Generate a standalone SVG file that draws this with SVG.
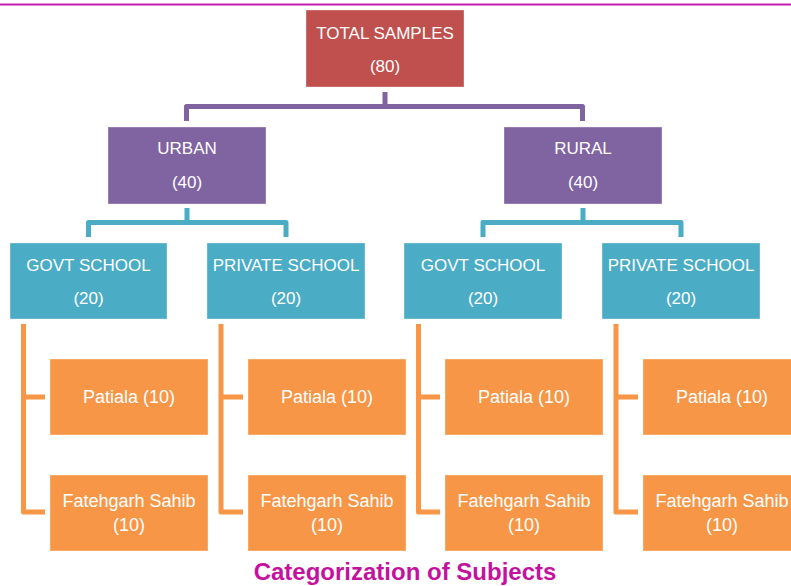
<svg xmlns="http://www.w3.org/2000/svg" width="791" height="586" viewBox="0 0 791 586">
  <style>
    .lbl { font-family: "Liberation Sans", Arial, sans-serif; font-size: 17px; fill: #ffffff; text-anchor: middle; }
    .lbl18 { font-size: 18px; }
    .title { font-family: "Liberation Sans", Arial, sans-serif; font-size: 24px; font-weight: bold; fill: #C3129E; text-anchor: middle; }
    .red { fill: #C0504D; }
    .purple { fill: #8064A2; }
    .teal { fill: #4BACC6; }
    .orange { fill: #F79646; }
    .box { stroke: #ffffff; stroke-opacity: 0.35; stroke-width: 1; }
    .conn { fill: none; stroke-width: 5; stroke-linejoin: round; stroke-linecap: butt; }
  </style>

  <rect width="791" height="586" fill="#ffffff"/>

  <!-- header rule -->
  <line x1="0" y1="4.5" x2="791" y2="4.5" stroke="#C21BB0" stroke-width="2"/>

  <!-- connectors -->
  <g id="connectors">
    <!-- root to regions -->
    <path class="conn" stroke="#8064A2" d="M385 92 V106.5 M186.5 121 V106.5 H582.5 V121"/>
    <!-- regions to schools -->
    <path class="conn" stroke="#4BACC6" d="M187 208 V222.5 M88.5 237 V222.5 H286 V237"/>
    <path class="conn" stroke="#4BACC6" d="M583 208 V222.5 M483 237 V222.5 H681 V237"/>
    <!-- schools to districts -->
    <path class="conn" stroke="#F79646" d="M23.5 324 V512 H45 M23.5 397 H45"/>
    <path class="conn" stroke="#F79646" d="M221 324 V512 H243 M221 397 H243"/>
    <path class="conn" stroke="#F79646" d="M418.5 324 V512 H440 M418.5 397 H440"/>
    <path class="conn" stroke="#F79646" d="M616 324 V512 H638 M616 397 H638"/>
  </g>

  <!-- root -->
  <g id="total">
    <rect class="red box" x="306" y="10" width="158" height="77"/>
    <text class="lbl" x="385" y="39">TOTAL SAMPLES</text>
    <text class="lbl" x="385" y="72">(80)</text>
  </g>

  <!-- regions -->
  <g id="urban">
    <rect class="purple box" x="108" y="127" width="158" height="77"/>
    <text class="lbl" x="187" y="154">URBAN</text>
    <text class="lbl" x="187" y="188">(40)</text>
  </g>
  <g id="rural">
    <rect class="purple box" x="504" y="127" width="158" height="77"/>
    <text class="lbl" x="583" y="154">RURAL</text>
    <text class="lbl" x="583" y="188">(40)</text>
  </g>

  <!-- schools -->
  <g id="urban-govt">
    <rect class="teal box" x="10" y="243" width="157" height="76"/>
    <text class="lbl" x="88.5" y="271">GOVT SCHOOL</text>
    <text class="lbl" x="88.5" y="304">(20)</text>
  </g>
  <g id="urban-private">
    <rect class="teal box" x="207" y="243" width="158" height="76"/>
    <text class="lbl" x="286" y="271">PRIVATE SCHOOL</text>
    <text class="lbl" x="286" y="304">(20)</text>
  </g>
  <g id="rural-govt">
    <rect class="teal box" x="404" y="243" width="158" height="76"/>
    <text class="lbl" x="483" y="271">GOVT SCHOOL</text>
    <text class="lbl" x="483" y="304">(20)</text>
  </g>
  <g id="rural-private">
    <rect class="teal box" x="602" y="243" width="158" height="76"/>
    <text class="lbl" x="681" y="271">PRIVATE SCHOOL</text>
    <text class="lbl" x="681" y="304">(20)</text>
  </g>

  <!-- districts -->
  <g id="ug-patiala">
    <rect class="orange box" x="50" y="359" width="158" height="76"/>
    <text class="lbl lbl18" x="129" y="403">Patiala (10)</text>
  </g>
  <g id="ug-fatehgarh">
    <rect class="orange box" x="50" y="475" width="158" height="76"/>
    <text class="lbl lbl18" x="129" y="507">Fatehgarh Sahib</text>
    <text class="lbl lbl18" x="129" y="531">(10)</text>
  </g>
  <g id="up-patiala">
    <rect class="orange box" x="248" y="359" width="158" height="76"/>
    <text class="lbl lbl18" x="327" y="403">Patiala (10)</text>
  </g>
  <g id="up-fatehgarh">
    <rect class="orange box" x="248" y="475" width="158" height="76"/>
    <text class="lbl lbl18" x="327" y="507">Fatehgarh Sahib</text>
    <text class="lbl lbl18" x="327" y="531">(10)</text>
  </g>
  <g id="rg-patiala">
    <rect class="orange box" x="445" y="359" width="158" height="76"/>
    <text class="lbl lbl18" x="524" y="403">Patiala (10)</text>
  </g>
  <g id="rg-fatehgarh">
    <rect class="orange box" x="445" y="475" width="158" height="76"/>
    <text class="lbl lbl18" x="524" y="507">Fatehgarh Sahib</text>
    <text class="lbl lbl18" x="524" y="531">(10)</text>
  </g>
  <g id="rp-patiala">
    <rect class="orange box" x="643" y="359" width="158" height="76"/>
    <text class="lbl lbl18" x="722" y="403">Patiala (10)</text>
  </g>
  <g id="rp-fatehgarh">
    <rect class="orange box" x="643" y="475" width="158" height="76"/>
    <text class="lbl lbl18" x="722" y="507">Fatehgarh Sahib</text>
    <text class="lbl lbl18" x="722" y="531">(10)</text>
  </g>

  <text class="title" x="405" y="580">Categorization of Subjects</text>
</svg>
